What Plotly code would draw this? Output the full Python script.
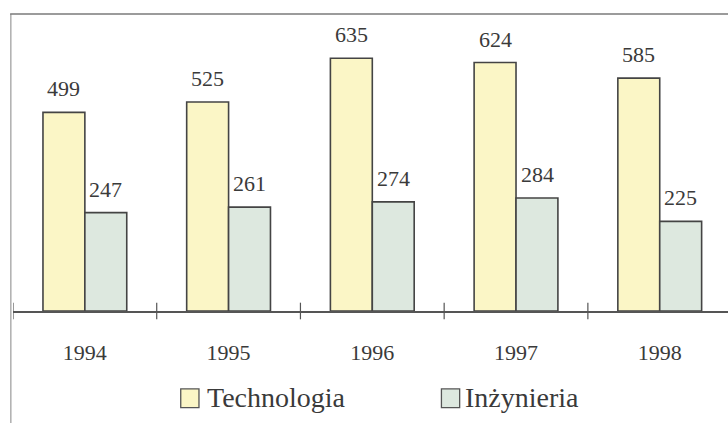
import plotly.graph_objects as go

years = ["1994", "1995", "1996", "1997", "1998"]
technologia = [499, 525, 635, 624, 585]
inzynieria = [247, 261, 274, 284, 225]
series_names = ["Technologia", "Inżynieria"]
series_colors = ["#FBF6C6", "#DDE8DF"]

font_family = "Liberation Serif, Times New Roman, serif"
text_color = "#3a3a3a"
outline = "#444444"

fig = go.Figure()
for name, vals, col in zip(series_names, [technologia, inzynieria], series_colors):
    fig.add_trace(go.Bar(
        x=years, y=vals, name=name,
        marker=dict(color=col, line=dict(color=outline, width=1.6)),
        showlegend=False,
    ))

annotations = []
# value labels above bars (x given as category index)
for k, vals in enumerate([technologia, inzynieria]):
    shift = -21 if k == 0 else 21
    for i, v in enumerate(vals):
        annotations.append(dict(x=i, y=v, xref="x", yref="y", text=str(v),
                                showarrow=False, xshift=shift, yshift=9,
                                yanchor="bottom", xanchor="center",
                                font=dict(family=font_family, size=22, color=text_color)))

shapes = []
# tick marks crossing the axis at category boundaries
for i in range(len(years)):
    shapes.append(dict(type="line", xref="x", yref="paper",
                       x0=i - 0.5, x1=i - 0.5, y0=-0.028, y1=0.028,
                       line=dict(color="#555555", width=1.2)))
# frame (left and top border)
shapes.append(dict(type="line", xref="paper", yref="paper",
                   x0=-0.003, x1=-0.003, y0=-0.4, y1=1.0,
                   line=dict(color="#9a9a9a", width=1.2)))
shapes.append(dict(type="line", xref="paper", yref="paper",
                   x0=-0.004, x1=1.0, y0=1.0, y1=1.0,
                   line=dict(color="#7a7a7a", width=1.5)))

# custom legend: boxes + labels
legend_box_x = [0.2346, 0.5992]
legend_text_x = [0.2680, 0.6290]
for name, col, bx, tx in zip(series_names, series_colors, legend_box_x, legend_text_x):
    shapes.append(dict(type="rect", xref="paper", yref="paper",
                       x0=bx, x1=bx + 0.0255, y0=-0.325, y1=-0.262,
                       fillcolor=col, line=dict(color="#555555", width=1.3)))
    annotations.append(dict(x=tx, y=-0.2925, xref="paper", yref="paper",
                            text=name, showarrow=False, xanchor="left", yanchor="middle",
                            font=dict(family=font_family, size=28, color=text_color)))

fig.update_layout(
    width=728, height=423,
    margin=dict(l=13, r=0, t=14, b=112),
    paper_bgcolor="white", plot_bgcolor="white",
    barmode="group", bargap=0.417, bargroupgap=0,
    font=dict(family=font_family, size=22, color=text_color),
    xaxis=dict(type="category", range=[-0.5, 4.475],
               showline=True, linecolor="#555555", linewidth=1.5,
               ticks="", showgrid=False, zeroline=False,
               tickfont=dict(family=font_family, size=22, color=text_color),
               ticklabelstandoff=21),
    yaxis=dict(range=[0, 746], visible=False, showgrid=False, zeroline=False),
    showlegend=False,
    shapes=shapes,
    annotations=annotations,
)

fig.write_html("out.html", config={"displayModeBar": False},
               post_script="document.body.style.margin='0';")
